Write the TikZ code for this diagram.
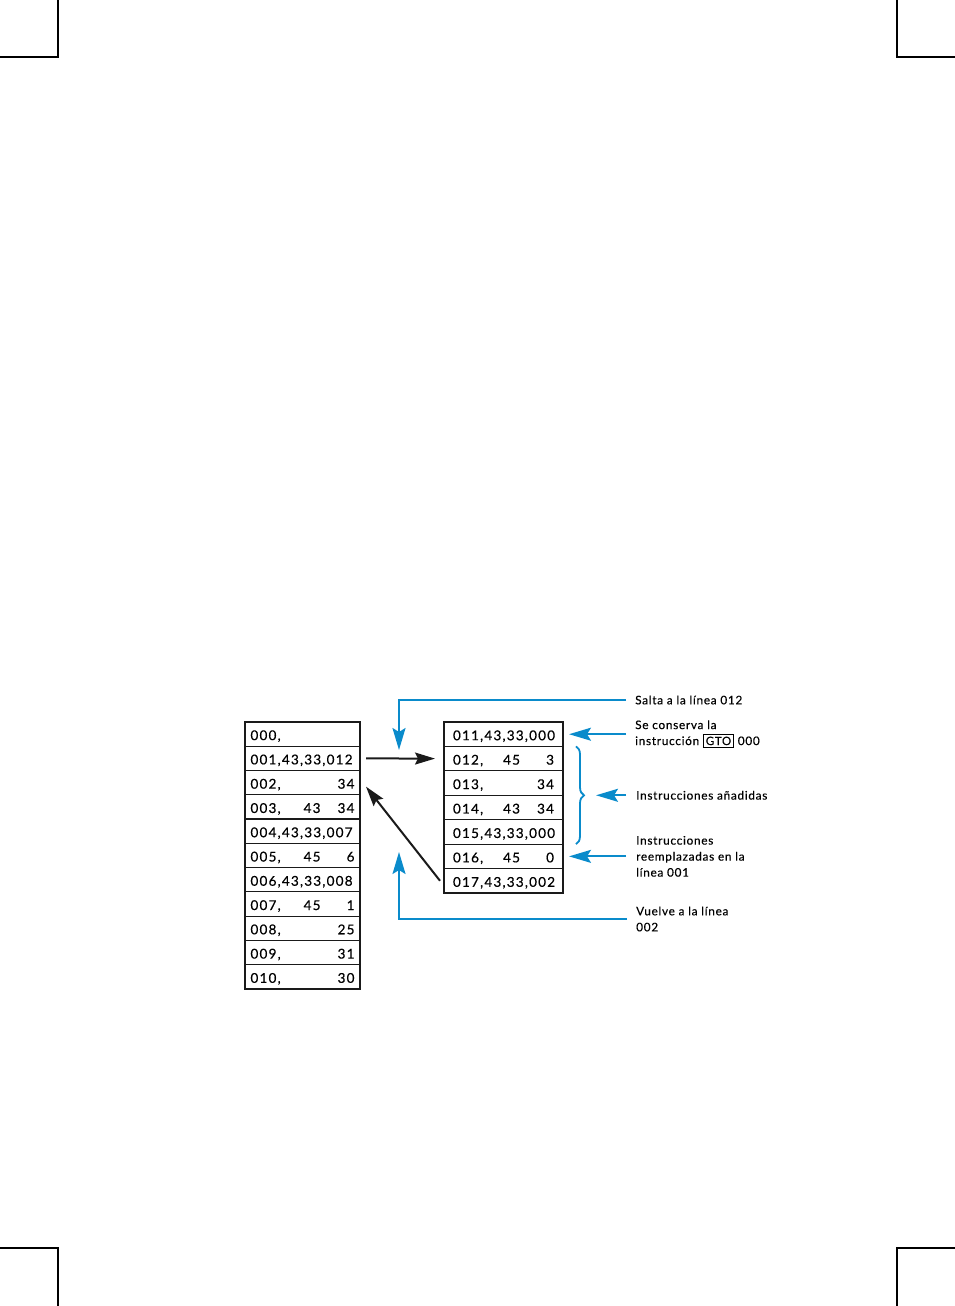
\documentclass[tikz,border=0pt]{standalone}
\usepackage{fontspec}
\setmainfont{Lato}
\newfontfamily\tablefont[LetterSpace=9,FakeBold=0.5]{Lato}
\newfontfamily\notefont[LetterSpace=6,FakeBold=0.3]{Lato}
\usetikzlibrary{arrows.meta,positioning,decorations.pathreplacing}
\definecolor{PrgBlue}{HTML}{0A8BCB}
\definecolor{PrgInk}{HTML}{1A1A1A}
\newcommand\prgline[3]{#1\hfill\makebox[22pt][r]{#2}\makebox[34pt][r]{#3}}
\newcommand\gtokey[1]{{\setlength\fboxsep{2pt}\setlength\fboxrule{0.9pt}\fbox{\fontsize{11.5}{12}\selectfont#1}}}
\tikzset{
  prgcell/.style={
    draw=PrgInk,
    line width=1.2pt,
    outer sep=0pt,
    inner ysep=0pt,
    text height=12pt,
    text depth=0pt,
    align=left,
    font=\tablefont\fontsize{13.5}{15}\selectfont
  },
  leftcell/.style={prgcell,text width=104pt,inner xsep=5.5pt,minimum height=24.27pt},
  rightcell/.style={prgcell,text width=101pt,inner xsep=9pt,minimum height=24.43pt},
  jumparrow/.style={-{Stealth[length=20pt,width=12pt,inset=3pt]},line width=2pt,draw=PrgInk},
  notearrow/.style={-{Stealth[length=22pt,width=13pt,inset=4pt]},line width=2pt,draw=PrgBlue},
  notebrace/.style={decorate,decoration={brace,amplitude=8pt},line width=1.8pt,draw=PrgBlue},
  notetext/.style={anchor=west,inner sep=0pt,align=left,font=\notefont\fontsize{11.8}{16}\selectfont},
  cropmark/.style={line width=1.3pt,draw=black}
}
\begin{document}
\begin{tikzpicture}[x=1pt,y=-1pt]
  \useasboundingbox (0,0) rectangle (955,1306);
  % crop marks
  \draw[cropmark] (58,0) -- (58,57) -- (0,57);
  \draw[cropmark] (897,0) -- (897,57) -- (955,57);
  \draw[cropmark] (0,1248) -- (58,1248) -- (58,1306);
  \draw[cropmark] (955,1248) -- (897,1248) -- (897,1306);

  % original program
  \node[leftcell] (r000) at (302.5,734.1) {\prgline{000,}{}{}};
  \node[leftcell,below=0pt of r000] (r001) {001,43,33,012};
  \node[leftcell,below=0pt of r001] (r002) {\prgline{002,}{}{34}};
  \node[leftcell,below=0pt of r002] (r003) {\prgline{003,}{43}{34}};
  \node[leftcell,below=0pt of r003] (r004) {004,43,33,007};
  \node[leftcell,below=0pt of r004] (r005) {\prgline{005,}{45}{6}};
  \node[leftcell,below=0pt of r005] (r006) {006,43,33,008};
  \node[leftcell,below=0pt of r006] (r007) {\prgline{007,}{45}{1}};
  \node[leftcell,below=0pt of r007] (r008) {\prgline{008,}{}{25}};
  \node[leftcell,below=0pt of r008] (r009) {\prgline{009,}{}{31}};
  \node[leftcell,below=0pt of r009] (r010) {\prgline{010,}{}{30}};

  % added lines
  \node[rightcell] (r011) at (503.5,734.2) {011,43,33,000};
  \node[rightcell,below=0pt of r011] (r012) {\prgline{012,}{45}{3}};
  \node[rightcell,below=0pt of r012] (r013) {\prgline{013,}{}{34}};
  \node[rightcell,below=0pt of r013] (r014) {\prgline{014,}{43}{34}};
  \node[rightcell,below=0pt of r014] (r015) {015,43,33,000};
  \node[rightcell,below=0pt of r015] (r016) {\prgline{016,}{45}{0}};
  \node[rightcell,below=0pt of r016] (r017) {017,43,33,002};

  \draw[jumparrow,shorten <=6pt,shorten >=9pt] (r001.east) -- (r012.west);
  \draw[jumparrow] ([xshift=-4pt]r017.west) -- ([xshift=6pt,yshift=-4pt]r002.east);

  % notes
  \node[notetext] (salta) at (635,700) {Salta a la línea 012};
  \node[notetext,right=72pt of r011] (conserva) {Se conserva la\\instrucción \gtokey{GTO} 000};
  \node[notetext,right=73pt of r013.south east] (added) {Instrucciones añadidas};
  \node[notetext,right=73pt of r016] (replaced) {Instrucciones\\reemplazadas en la\\línea 001};
  \node[notetext] (back) at (636,919) {Vuelve a la línea\\002};
  \coordinate (jumpin) at (399,750);
  \coordinate (backin) at (399,852);
  \coordinate (bracetip) at ([xshift=21pt]r013.south east);

  \draw[notebrace] ([xshift=13pt]r012.north east) -- ([xshift=13pt]r015.south east);
  \draw[notearrow] ([xshift=-9pt]salta.west) -| (jumpin);
  \draw[notearrow] ([xshift=-9pt]back.west) -| (backin);
  \draw[notearrow] ([xshift=-9pt]conserva.west) -- ([xshift=6pt]r011.east);
  \draw[notearrow,shorten >=12pt] ([xshift=-10pt]added.west) -- (bracetip);
  \draw[notearrow] ([xshift=-10pt]replaced.west) -- ([xshift=6pt]r016.east);
\end{tikzpicture}
\end{document}
